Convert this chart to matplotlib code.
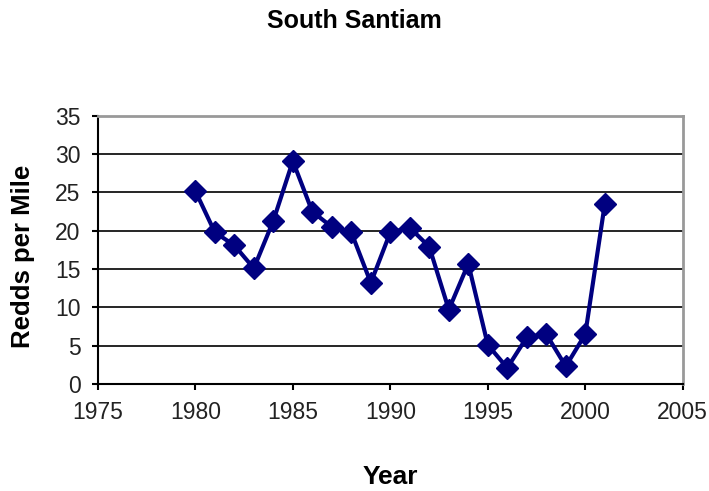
import matplotlib
matplotlib.use("Agg")
from matplotlib import pyplot as plt

plt.rcParams['font.family'] = ['Liberation Sans', 'DejaVu Sans']

years = [1980, 1981, 1982, 1983, 1984, 1985, 1986, 1987, 1988, 1989, 1990,
         1991, 1992, 1993, 1994, 1995, 1996, 1997, 1998, 1999, 2000, 2001]
redds = [25.2, 19.8, 18.1, 15.1, 21.3, 29.1, 22.5, 20.5, 19.8, 13.2, 19.8,
         20.4, 17.9, 9.7, 15.7, 5.1, 2.1, 6.1, 6.5, 2.3, 6.5, 23.5]
xticks = [1975, 1980, 1985, 1990, 1995, 2000, 2005]
yticks = [0, 5, 10, 15, 20, 25, 30, 35]

fig = plt.figure(figsize=(7.09, 4.91), dpi=100)
ax = fig.add_axes([0.138, 0.218, 0.825, 0.546])

ax.plot(years, redds, color='#000080', lw=3, marker='D', ms=11.5, zorder=3)

ax.set_xlim(1975, 2005)
ax.set_ylim(0, 35)
ax.set_xticks(xticks)
ax.set_yticks(yticks)
ax.yaxis.grid(True, color='black', lw=1.2)
ax.set_axisbelow(True)

ax.spines['left'].set_color('black')
ax.spines['bottom'].set_color('black')
ax.spines['left'].set_linewidth(1.5)
ax.spines['bottom'].set_linewidth(1.5)
ax.spines['top'].set_color('#999999')
ax.spines['right'].set_color('#999999')
ax.spines['top'].set_linewidth(2)
ax.spines['right'].set_linewidth(2)
ax.tick_params(direction='out', length=4.5, width=1.5, labelsize=16.5, colors='black')
ax.tick_params(axis='x', pad=8)
ax.tick_params(axis='y', pad=8)
for lab in ax.get_xticklabels() + ax.get_yticklabels():
    lab.set_color('#222222')

fig.text(0.5, 0.958, 'South Santiam', ha='center', va='center', fontsize=18, fontweight='bold')
fig.text(0.55, 0.028, 'Year', ha='center', va='center', fontsize=19, fontweight='bold')
fig.text(0.033, 0.477, 'Redds per Mile', ha='center', va='center', rotation=90,
         fontsize=18.5, fontweight='bold')

fig.savefig('out.png', dpi=100)
